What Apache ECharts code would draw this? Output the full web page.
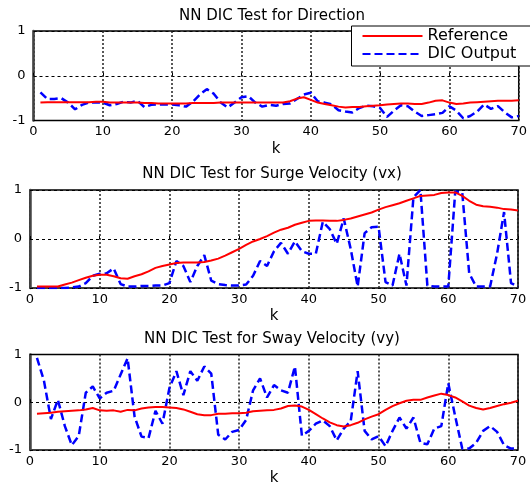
<!DOCTYPE html>
<html>
<head>
<meta charset="utf-8">
<script src="https://cdn.jsdelivr.net/npm/echarts@6/dist/echarts.min.js"></script>
<style>
  html, body { margin: 0; padding: 0; background: #fff; }
  #chart { width: 530px; height: 487px; }
</style>
</head>
<body>
<div id="chart"></div>
<script>
// values read at k = 1..70
const dirRef = [-0.6, -0.59, -0.59, -0.59, -0.59, -0.59, -0.59, -0.59, -0.58, -0.58,
  -0.6, -0.6, -0.6, -0.6, -0.6, -0.61, -0.61, -0.62, -0.62, -0.62,
  -0.62, -0.62, -0.61, -0.61, -0.61, -0.61, -0.6, -0.6, -0.6, -0.6,
  -0.6, -0.6, -0.6, -0.6, -0.6, -0.6, -0.57, -0.51, -0.48, -0.54,
  -0.6, -0.63, -0.66, -0.69, -0.71, -0.7, -0.7, -0.68, -0.67, -0.66,
  -0.64, -0.63, -0.62, -0.62, -0.63, -0.63, -0.6, -0.56, -0.55, -0.6,
  -0.63, -0.62, -0.6, -0.59, -0.58, -0.57, -0.56, -0.56, -0.56, -0.55];
const dirOut = [-0.37, -0.52, -0.52, -0.5, -0.6, -0.75, -0.65, -0.6, -0.6, -0.6,
  -0.66, -0.63, -0.58, -0.6, -0.56, -0.7, -0.65, -0.64, -0.64, -0.64,
  -0.66, -0.69, -0.58, -0.42, -0.3, -0.4, -0.6, -0.71, -0.6, -0.48,
  -0.46, -0.6, -0.69, -0.65, -0.67, -0.63, -0.62, -0.52, -0.42, -0.38,
  -0.57, -0.6, -0.64, -0.77, -0.8, -0.82, -0.72, -0.67, -0.68, -0.72,
  -0.92, -0.78, -0.66, -0.68, -0.8, -0.9, -0.88, -0.86, -0.83, -0.68,
  -0.78, -0.95, -0.9, -0.8, -0.64, -0.74, -0.68, -0.82, -0.93, -0.9];

const vxRef = [-0.97, -0.97, -0.97, -0.97, -0.93, -0.89, -0.84, -0.79, -0.75, -0.73,
  -0.73, -0.76, -0.8, -0.81, -0.76, -0.72, -0.66, -0.59, -0.55, -0.52,
  -0.49, -0.48, -0.48, -0.48, -0.47, -0.44, -0.4, -0.34, -0.27, -0.2,
  -0.12, -0.05, 0.0, 0.06, 0.13, 0.19, 0.23, 0.29, 0.33, 0.37,
  0.38, 0.38, 0.37, 0.37, 0.39, 0.42, 0.46, 0.5, 0.54, 0.6,
  0.65, 0.69, 0.73, 0.78, 0.83, 0.88, 0.89, 0.9, 0.94, 0.95,
  0.95, 0.88, 0.78, 0.7, 0.67, 0.66, 0.64, 0.61, 0.6, 0.58];
const vxOut = [-1, -1, -1, -1, -1, -0.99, -0.97, -0.9, -0.75, -0.71,
  -0.7, -0.6, -0.92, -0.97, -0.97, -0.96, -0.96, -0.95, -0.95, -0.9,
  -0.45, -0.55, -0.88, -0.55, -0.33, -0.85, -0.92, -0.94, -0.95, -0.95,
  -0.93, -0.75, -0.45, -0.55, -0.25, -0.08, -0.3, -0.05, -0.25, -0.3,
  -0.3, 0.35, 0.2, -0.1, 0.42, -0.2, -0.97, 0.12, 0.24, 0.25,
  -0.88, -0.95, -0.3, -0.95, 0.85, 1.0, -0.95, -0.97, -0.97, -0.97,
  0.97, 0.95, -0.7, -0.97, -0.97, -0.97, -0.3, 0.55, -0.9, -0.97];

const vyRef = [-0.24, -0.23, -0.22, -0.2, -0.19, -0.18, -0.17, -0.15, -0.12, -0.17,
  -0.18, -0.17, -0.2, -0.16, -0.17, -0.13, -0.11, -0.1, -0.1, -0.11,
  -0.12, -0.15, -0.2, -0.25, -0.27, -0.27, -0.24, -0.24, -0.23, -0.23,
  -0.22, -0.19, -0.18, -0.17, -0.16, -0.13, -0.08, -0.07, -0.09, -0.16,
  -0.25, -0.34, -0.42, -0.48, -0.51, -0.48, -0.43, -0.36, -0.3, -0.25,
  -0.16, -0.08, -0.02, 0.03, 0.05, 0.05, 0.1, 0.14, 0.18, 0.15,
  0.1, 0.02, -0.07, -0.12, -0.15, -0.12, -0.08, -0.04, -0.01, 0.03];
const vyOut = [0.93, 0.45, -0.35, 0.05, -0.5, -0.9, -0.7, 0.2, 0.33, 0.08,
  0.2, 0.24, 0.58, 0.92, -0.3, -0.72, -0.75, -0.18, -0.45, 0.3,
  0.65, 0.15, 0.65, 0.45, 0.75, 0.6, -0.68, -0.78, -0.62, -0.58,
  -0.37, 0.25, 0.5, 0.1, 0.36, 0.25, 0.2, 0.75, -0.7, -0.6,
  -0.45, -0.38, -0.5, -0.8, -0.55, -0.4, 0.65, -0.6, -0.78, -0.71,
  -0.92, -0.6, -0.32, -0.55, -0.32, -0.85, -0.88, -0.55, -0.5, 0.4,
  -0.3, -0.97, -0.97, -0.85, -0.6, -0.5, -0.62, -0.9, -0.97, -0.97];

const titles = ['NN DIC Test for Direction', 'NN DIC Test for Surge Velocity (vx)', 'NN DIC Test for Sway Velocity (vy)'];
const refSets = [dirRef, vxRef, vyRef];
const outSets = [dirOut, vxOut, vyOut];

const font = 'DejaVu Sans';
const grids = [
  { left: 33.5, top: 31, width: 487, height: 89.5 },
  { left: 30, top: 190, width: 488, height: 98 },
  { left: 30, top: 354.5, width: 488, height: 98 }
];
const titleTops = [9, 167, 332];

const toPairs = arr => arr.map((v, i) => [i + 1, v]);

const option = {
  backgroundColor: '#fff',
  animation: false,
  title: titles.map((t, i) => ({
    text: t,
    left: 272,
    textAlign: 'center',
    top: titleTops[i],
    padding: 0,
    textStyle: { fontFamily: font, fontSize: 15, fontWeight: 'normal', color: '#000' }
  })),
  legend: {
    data: ['Reference', 'DIC Output'],
    orient: 'vertical',
    left: 351.5,
    top: 26,
    padding: [2, 16, 4, 10],
    itemGap: 2,
    itemWidth: 60,
    itemHeight: 14,
    backgroundColor: '#fff',
    borderColor: '#000',
    borderWidth: 1,
    borderRadius: 0,
    selectedMode: false,
    itemStyle: { opacity: 0 },
    textStyle: { fontFamily: font, fontSize: 16, color: '#000' }
  },
  grid: grids.map(g => Object.assign({
    show: true, borderColor: '#000', borderWidth: 1.5, backgroundColor: '#fff'
  }, g)),
  xAxis: grids.map((g, i) => ({
    gridIndex: i,
    type: 'value',
    min: 0, max: 70, interval: 10,
    name: 'k',
    nameLocation: 'middle',
    nameGap: 21,
    nameTextStyle: { fontFamily: font, fontSize: 15, color: '#000' },
    axisLine: { show: false },
    axisTick: { show: true, inside: true, length: 3, lineStyle: { color: '#000' } },
    axisLabel: { fontFamily: font, fontSize: 13, color: '#000', margin: 5 },
    splitLine: { show: true, lineStyle: { color: '#222', type: [2, 2], width: 1.5 } }
  })),
  yAxis: grids.map((g, i) => ({
    gridIndex: i,
    type: 'value',
    min: -1, max: 1, interval: 1,
    axisLine: { show: true, lineStyle: { color: '#444', width: 2.5 } },
    axisTick: { show: true, inside: true, length: 3, lineStyle: { color: '#000' } },
    axisLabel: { fontFamily: font, fontSize: 13, color: '#000', margin: 8 },
    splitLine: { show: true, lineStyle: { color: '#000', type: [3, 3], width: 1 } }
  })),
  series: []
};

for (let i = 0; i < 3; i++) {
  option.series.push({
    name: 'DIC Output',
    type: 'line',
    xAxisIndex: i, yAxisIndex: i,
    symbol: 'none',
    data: toPairs(outSets[i]),
    lineStyle: { color: '#0000ff', width: 2.5, type: [8, 4] },
    itemStyle: { color: '#0000ff' },
    z: 3
  });
  option.series.push({
    name: 'Reference',
    type: 'line',
    xAxisIndex: i, yAxisIndex: i,
    symbol: 'none',
    data: toPairs(refSets[i]),
    lineStyle: { color: '#ff0000', width: 2 },
    itemStyle: { color: '#ff0000' },
    z: 4
  });
}

const chart = echarts.init(document.getElementById('chart'));
chart.setOption(option);
</script>
</body>
</html>
